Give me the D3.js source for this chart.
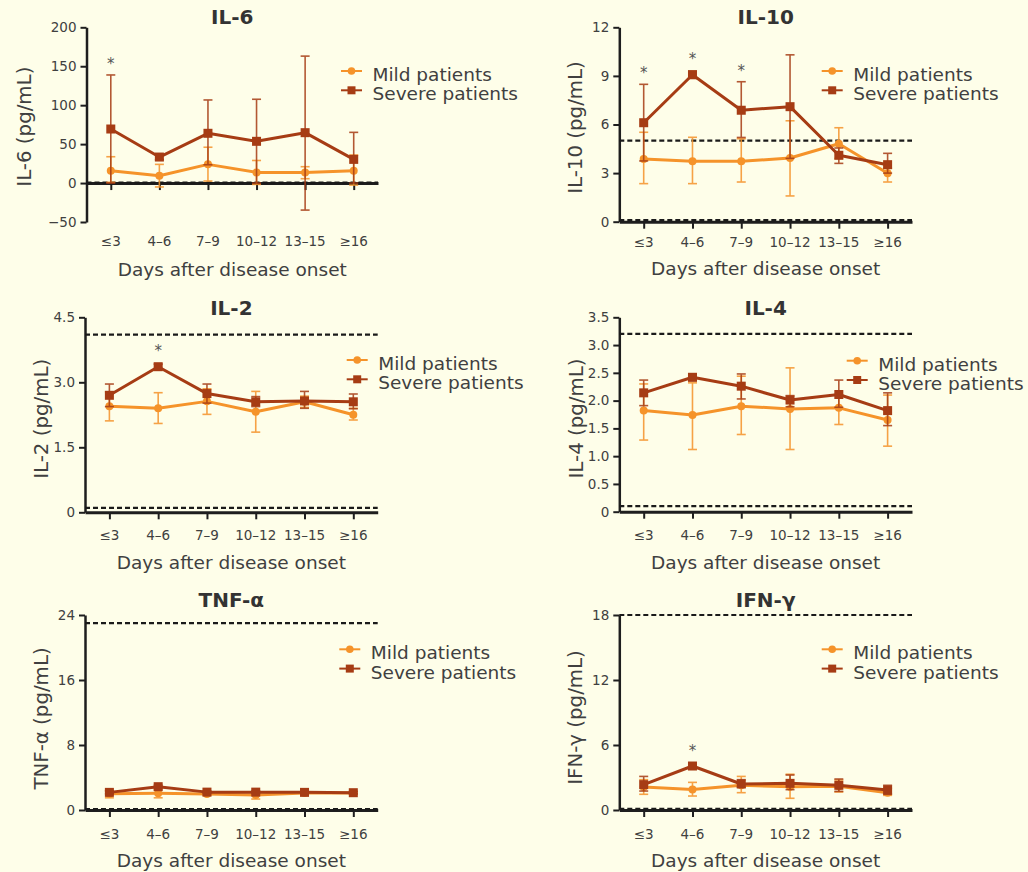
<!DOCTYPE html>
<html>
<head>
<meta charset="utf-8">
<script src="https://cdn.jsdelivr.net/npm/d3@7"></script>
<style>
  html, body { margin: 0; padding: 0; background: #fefee9; }
  svg { display: block; font-family: "DejaVu Sans", Verdana, sans-serif; }
</style>
</head>
<body>
<svg id="chart" width="1028" height="872"></svg>
<script>
// Days after disease onset (groups)
const categories = ["≤3", "4–6", "7–9", "10–12", "13–15", "≥16"];
const seriesNames = ["Mild patients", "Severe patients"];

// IL-6 (pg/mL)
const il6Mild       = [15.8, 9.4, 24.0, 13.7, 13.7, 15.8];
const il6MildLow    = [1.0, -5.0, 2.6, -1.7, 5.6, -2.6];
const il6MildHigh   = [33.8, 24.0, 46.0, 29.0, 21.0, 36.0];
const il6Severe     = [69.4, 33.4, 63.9, 53.6, 64.7, 30.4];
const il6SevereLow  = [0.0, 30.0, 23.5, 0.0, -34.7, 0.0];
const il6SevereHigh = [138.8, 37.0, 106.7, 107.6, 163.0, 65.1];
const il6Ticks      = [-50, 0, 50, 100, 150, 200];
const il6TickLabels = ["−50", "0", "50", "100", "150", "200"];
const il6RefLines   = [0.5];
const il6Stars      = ["≤3"];

// IL-10 (pg/mL)
const il10Mild       = [3.87, 3.73, 3.73, 3.93, 4.81, 2.99];
const il10MildLow    = [2.35, 2.35, 2.45, 1.59, 3.9, 2.45];
const il10MildHigh   = [5.52, 5.21, 5.12, 6.23, 5.8, 3.3];
const il10Severe     = [6.11, 9.07, 6.88, 7.1, 4.1, 3.52];
const il10SevereLow  = [3.75, 8.95, 5.2, 3.91, 3.6, 3.0];
const il10SevereHigh = [8.48, 9.3, 8.64, 10.3, 4.55, 4.22];
const il10Ticks      = [0, 3, 6, 9, 12];
const il10TickLabels = ["0", "3", "6", "9", "12"];
const il10RefLines   = [0.1, 5];
const il10Stars      = ["≤3", "4–6", "7–9"];

// IL-2 (pg/mL)
const il2Mild       = [2.45, 2.4, 2.56, 2.32, 2.55, 2.25];
const il2MildLow    = [2.11, 2.05, 2.26, 1.85, 2.42, 2.13];
const il2MildHigh   = [2.78, 2.76, 2.85, 2.79, 2.68, 2.4];
const il2Severe     = [2.7, 3.36, 2.74, 2.55, 2.57, 2.55];
const il2SevereLow  = [2.44, 3.3, 2.52, 2.44, 2.4, 2.39];
const il2SevereHigh = [2.96, 3.42, 2.96, 2.67, 2.79, 2.73];
const il2Ticks      = [0, 1.5, 3.0, 4.5];
const il2TickLabels = ["0", "1.5", "3.0", "4.5"];
const il2RefLines   = [0.1, 4.1];
const il2Stars      = ["4–6"];

// IL-4 (pg/mL)
const il4Mild       = [1.82, 1.74, 1.9, 1.85, 1.87, 1.65];
const il4MildLow    = [1.29, 1.12, 1.39, 1.12, 1.57, 1.18];
const il4MildHigh   = [2.3, 2.32, 2.44, 2.59, 2.1, 2.1];
const il4Severe     = [2.14, 2.42, 2.26, 2.01, 2.11, 1.82];
const il4SevereLow  = [1.91, 2.36, 2.03, 1.89, 1.88, 1.55];
const il4SevereHigh = [2.37, 2.47, 2.48, 2.09, 2.37, 2.14];
const il4Ticks      = [0, 0.5, 1.0, 1.5, 2.0, 2.5, 3.0, 3.5];
const il4TickLabels = ["0", "0.5", "1.0", "1.5", "2.0", "2.5", "3.0", "3.5"];
const il4RefLines   = [0.1, 3.2];
const il4Stars      = [];

// TNF-α (pg/mL)
const tnfMild       = [2.0, 2.05, 1.97, 1.84, 2.1, 2.1];
const tnfMildLow    = [1.5, 1.5, 1.8, 1.35, 1.95, 1.95];
const tnfMildHigh   = [2.4, 2.5, 2.2, 2.2, 2.25, 2.25];
const tnfSevere     = [2.17, 2.87, 2.2, 2.2, 2.17, 2.13];
const tnfSevereLow  = [2.0, 2.7, 2.05, 2.05, 2.05, 2.0];
const tnfSevereHigh = [2.35, 3.05, 2.35, 2.35, 2.3, 2.3];
const tnfTicks      = [0, 8, 16, 24];
const tnfTickLabels = ["0", "8", "16", "24"];
const tnfRefLines   = [0.1, 23];
const tnfStars      = [];

// IFN-γ (pg/mL)
const ifnMild       = [2.12, 1.9, 2.28, 2.15, 2.2, 1.6];
const ifnMildLow    = [1.45, 1.29, 1.6, 1.08, 1.66, 1.35];
const ifnMildHigh   = [2.8, 2.55, 3.1, 3.3, 2.77, 2.0];
const ifnSevere     = [2.34, 4.06, 2.4, 2.46, 2.28, 1.85];
const ifnSevereLow  = [1.75, 3.95, 2.1, 1.88, 1.72, 1.45];
const ifnSevereHigh = [3.1, 4.15, 2.8, 3.23, 2.86, 2.28];
const ifnTicks      = [0, 6, 12, 18];
const ifnTickLabels = ["0", "6", "12", "18"];
const ifnRefLines   = [0.1, 18];
const ifnStars      = ["4–6"];

// Colours
const mildColor = "#f5932a";
const severeColor = "#a63c14";
const axisColor = "#1e1e1e";
const textColor = "#404040";

// Panel layout (pixel frame of each small chart)
const layout = [
  { x0: 86.5, x1: 378, yTop: 27.3, yBottom: 222, titleY: 23.5, tickY: 246, xTitleY: 276, yTitleOff: 56, yTitleShift: 2, legX: 341, legY: 71 },
  { x0: 619.3, x1: 912, yTop: 27.3, yBottom: 221.7, titleY: 23.5, tickY: 247, xTitleY: 275, yTitleOff: 37.3, yTitleShift: 3, legX: 821.7, legY: 71 },
  { x0: 85, x1: 377.7, yTop: 317.3, yBottom: 512.3, titleY: 315, tickY: 540, xTitleY: 568.5, yTitleOff: 37, yTitleShift: 4, legX: 346.7, legY: 360 },
  { x0: 619.3, x1: 912, yTop: 317.3, yBottom: 511.7, titleY: 315, tickY: 540, xTitleY: 568.5, yTitleOff: 36.8, yTitleShift: 4, legX: 846.7, legY: 360.7 },
  { x0: 85, x1: 377.7, yTop: 615, yBottom: 810, titleY: 606.5, tickY: 839, xTitleY: 866.5, yTitleOff: 37, yTitleShift: 6, legX: 339.3, legY: 649.3 },
  { x0: 619.3, x1: 912, yTop: 615, yBottom: 810, titleY: 606.5, tickY: 839, xTitleY: 866.5, yTitleOff: 37.6, yTitleShift: 5, legX: 821.7, legY: 649.3 }
];

const panels = [
  { title: "IL-6", yLabel: "IL-6 (pg/mL)", domain: [-50, 200], xAxisAt: 0,
    mild: [il6Mild, il6MildLow, il6MildHigh], severe: [il6Severe, il6SevereLow, il6SevereHigh],
    ticks: il6Ticks, tickLabels: il6TickLabels, refLines: il6RefLines, stars: il6Stars },
  { title: "IL-10", yLabel: "IL-10 (pg/mL)", domain: [0, 12], xAxisAt: 0,
    mild: [il10Mild, il10MildLow, il10MildHigh], severe: [il10Severe, il10SevereLow, il10SevereHigh],
    ticks: il10Ticks, tickLabels: il10TickLabels, refLines: il10RefLines, stars: il10Stars },
  { title: "IL-2", yLabel: "IL-2 (pg/mL)", domain: [0, 4.5], xAxisAt: 0,
    mild: [il2Mild, il2MildLow, il2MildHigh], severe: [il2Severe, il2SevereLow, il2SevereHigh],
    ticks: il2Ticks, tickLabels: il2TickLabels, refLines: il2RefLines, stars: il2Stars },
  { title: "IL-4", yLabel: "IL-4 (pg/mL)", domain: [0, 3.5], xAxisAt: 0,
    mild: [il4Mild, il4MildLow, il4MildHigh], severe: [il4Severe, il4SevereLow, il4SevereHigh],
    ticks: il4Ticks, tickLabels: il4TickLabels, refLines: il4RefLines, stars: il4Stars },
  { title: "TNF-α", yLabel: "TNF-α (pg/mL)", domain: [0, 24], xAxisAt: 0,
    mild: [tnfMild, tnfMildLow, tnfMildHigh], severe: [tnfSevere, tnfSevereLow, tnfSevereHigh],
    ticks: tnfTicks, tickLabels: tnfTickLabels, refLines: tnfRefLines, stars: tnfStars },
  { title: "IFN-γ", yLabel: "IFN-γ (pg/mL)", domain: [0, 18], xAxisAt: 0,
    mild: [ifnMild, ifnMildLow, ifnMildHigh], severe: [ifnSevere, ifnSevereLow, ifnSevereHigh],
    ticks: ifnTicks, tickLabels: ifnTickLabels, refLines: ifnRefLines, stars: ifnStars }
];

const svg = d3.select("#chart");
svg.append("rect").attr("width", 1028).attr("height", 872).attr("fill", "#fefee9");

function toPoints(arrs) {
  const [mean, lo, hi] = arrs;
  return categories.map((c, i) => ({ cat: c, v: mean[i], lo: lo[i], hi: hi[i] }));
}

function drawSeries(g, x, y, pts, color, shape) {
  // error bars
  const eb = g.append("g").attr("stroke", color).attr("stroke-width", 1.6).attr("opacity", 0.85);
  pts.forEach(d => {
    const cx = x(d.cat);
    eb.append("line").attr("x1", cx).attr("x2", cx).attr("y1", y(d.lo)).attr("y2", y(d.hi));
    eb.append("line").attr("x1", cx - 4.5).attr("x2", cx + 4.5).attr("y1", y(d.lo)).attr("y2", y(d.lo));
    eb.append("line").attr("x1", cx - 4.5).attr("x2", cx + 4.5).attr("y1", y(d.hi)).attr("y2", y(d.hi));
  });
  // connecting line
  g.append("path").datum(pts)
    .attr("fill", "none").attr("stroke", color).attr("stroke-width", 3)
    .attr("stroke-linejoin", "round")
    .attr("d", d3.line().x(d => x(d.cat)).y(d => y(d.v)));
  // markers
  if (shape === "circle") {
    g.selectAll(null).data(pts).enter().append("circle")
      .attr("cx", d => x(d.cat)).attr("cy", d => y(d.v)).attr("r", 4).attr("fill", color);
  } else {
    g.selectAll(null).data(pts).enter().append("rect")
      .attr("x", d => x(d.cat) - 4.5).attr("y", d => y(d.v) - 4.5)
      .attr("width", 9).attr("height", 9).attr("fill", color);
  }
}

panels.forEach((p, idx) => {
  const L = layout[idx];
  const g = svg.append("g");
  const x = d3.scalePoint().domain(categories).range([L.x0, L.x1]).padding(0.5);
  const y = d3.scaleLinear().domain(p.domain).range([L.yBottom, L.yTop]);

  // y axis
  const yAxis = d3.axisLeft(y).tickValues(p.ticks)
    .tickFormat((d, i) => p.tickLabels[i]).tickSize(6).tickSizeOuter(0).tickPadding(4);
  const ya = g.append("g").attr("transform", `translate(${L.x0},0)`).call(yAxis);
  ya.select(".domain").attr("stroke", axisColor).attr("stroke-width", 2.5);
  ya.selectAll(".tick line").attr("stroke", axisColor).attr("stroke-width", 2);
  ya.selectAll(".tick text").attr("fill", textColor).attr("font-size", 13.5)
    .attr("font-family", "DejaVu Sans, Verdana, sans-serif");

  // x axis (ticks only; labels placed under the frame)
  const xAxis = d3.axisBottom(x).tickSize(7).tickSizeOuter(0).tickFormat("");
  const xa = g.append("g").attr("transform", `translate(0,${y(p.xAxisAt)})`).call(xAxis);
  xa.select(".domain").attr("stroke", axisColor).attr("stroke-width", 3);
  xa.selectAll(".tick line").attr("stroke", axisColor).attr("stroke-width", 2);

  g.selectAll(null).data(categories).enter().append("text")
    .attr("x", d => x(d)).attr("y", L.tickY)
    .attr("text-anchor", "middle").attr("font-size", 13.5).attr("fill", textColor)
    .text(d => d);

  // reference range lines
  p.refLines.forEach(v => {
    g.append("line").attr("x1", L.x0).attr("x2", L.x1).attr("y1", y(v)).attr("y2", y(v))
      .attr("stroke", "#1a1a1a").attr("stroke-width", 2.2).attr("stroke-dasharray", "5,3");
  });

  // series
  const mildPts = toPoints(p.mild);
  const severePts = toPoints(p.severe);
  drawSeries(g, x, y, mildPts, mildColor, "circle");
  drawSeries(g, x, y, severePts, severeColor, "square");

  // significance marks
  p.stars.forEach(c => {
    const d = severePts.find(s => s.cat === c);
    const top = Math.min(y(d.hi), y(d.v) - 4.5);
    g.append("text").attr("x", x(c)).attr("y", top - 6)
      .attr("text-anchor", "middle").attr("font-size", 15).attr("fill", "#555").text("*");
  });

  // titles
  g.append("text").attr("x", (L.x0 + L.x1) / 2).attr("y", L.titleY)
    .attr("text-anchor", "middle").attr("font-size", 20).attr("font-weight", "bold")
    .attr("fill", "#333").text(p.title);
  g.append("text").attr("x", (L.x0 + L.x1) / 2).attr("y", L.xTitleY)
    .attr("text-anchor", "middle").attr("font-size", 18.5).attr("fill", textColor)
    .text("Days after disease onset");
  const cy = (L.yTop + L.yBottom) / 2 + L.yTitleShift;
  g.append("text").attr("transform", `translate(${L.x0 - L.yTitleOff},${cy}) rotate(-90)`)
    .attr("text-anchor", "middle").attr("font-size", 19.8).attr("fill", textColor)
    .text(p.yLabel);

  // legend
  const leg = g.append("g").attr("transform", `translate(${L.legX},${L.legY})`);
  [mildColor, severeColor].forEach((col, i) => {
    const row = leg.append("g").attr("transform", `translate(0,${i * 19.3})`);
    row.append("line").attr("x1", 0).attr("x2", 21).attr("y1", 0).attr("y2", 0)
      .attr("stroke", col).attr("stroke-width", 2);
    if (i === 0) row.append("circle").attr("cx", 10.5).attr("cy", 0).attr("r", 3.8).attr("fill", col);
    else row.append("rect").attr("x", 6.5).attr("y", -4).attr("width", 8).attr("height", 8).attr("fill", col);
    row.append("text").attr("x", 31.5).attr("y", 10).attr("font-size", 18.5).attr("fill", textColor)
      .text(seriesNames[i]);
  });
});
</script>
</body>
</html>
